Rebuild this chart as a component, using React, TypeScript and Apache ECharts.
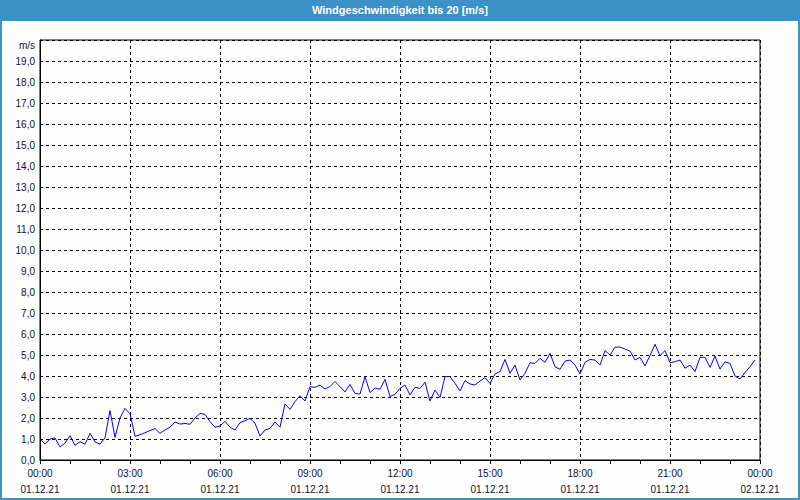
import React, { useEffect, useRef } from "react";
import * as echarts from "echarts";

const titleText = "Windgeschwindigkeit bis 20 [m/s]";
const unitLabel = "m/s";
const timeLabels = ["00:00", "03:00", "06:00", "09:00", "12:00", "15:00", "18:00", "21:00", "00:00"];
const dateLabels = ["01.12.21", "01.12.21", "01.12.21", "01.12.21", "01.12.21", "01.12.21", "01.12.21", "01.12.21", "02.12.21"];

// 10-minute samples from 01.12.21 00:00 (index 0) to 02.12.21 00:00 (index 144)
const windSpeed: (number | null)[] = [
  1.0, 0.76, 1.0, 1.05, 0.62, 0.8, 1.16, 0.7, 0.87, 0.75, 1.27, 0.86,
  0.75, 1.06, 2.35, 1.08, 2.0, 2.46, 2.2, 1.13, 1.2, 1.3, 1.4, 1.5,
  1.27, 1.43, 1.56, 1.81, 1.71, 1.74, 1.7, 2.0, 2.22, 2.17, 1.83, 1.56,
  1.62, 1.84, 1.56, 1.43, 1.78, 1.87, 1.98, 1.75, 1.14, 1.43, 1.51, 1.81,
  1.56, 2.67, 2.41, 2.78, 3.06, 2.81, 3.49, 3.46, 3.57, 3.38, 3.5, 3.74,
  3.49, 3.24, 3.6, 3.17, 3.14, 3.97, 3.21, 3.43, 3.37, 3.84, 3.02, 3.13,
  3.41, 3.57, 3.1, 3.46, 3.41, 3.7, 2.81, 3.33, 2.98, 3.97, 3.97, 3.65,
  3.29, 3.78, 3.62, 3.57, 3.76, 3.92, 3.65, 4.1, 4.21, 4.79, 4.13, 4.52,
  3.81, 4.13, 4.63, 4.6, 4.84, 4.65, 5.08, 4.44, 4.32, 4.71, 4.76, 4.52,
  4.1, 4.65, 4.79, 4.76, 4.52, 5.21, 5.0, 5.37, 5.38, 5.28, 5.19, 4.76,
  4.89, 4.48, 4.97, 5.51, 4.97, 5.21, 4.63, 4.68, 4.76, 4.37, 4.52, 4.21,
  4.89, 4.89, 4.41, 4.95, 4.33, 4.68, 4.6, 4.0, 3.86, 4.16, 4.44, 4.76,
  null,
];

const FONT = "Liberation Sans";

export default function App() {
  const ref = useRef<HTMLDivElement>(null);
  useEffect(() => {
    if (!ref.current) return;
    const chart = echarts.init(ref.current, undefined, { renderer: "svg" });
    const categories = windSpeed.map((_, i) => {
      const m = (i * 10) % 1440;
      const hh = String(Math.floor(m / 60)).padStart(2, "0");
      const mm = String(m % 60).padStart(2, "0");
      return `${i}-${hh}:${mm}`;
    });
    chart.setOption({
      animation: false,
      backgroundColor: "#fdfefd",
      grid: {
        left: 40,
        right: 40,
        top: 40,
        bottom: 40,
        show: true,
        borderColor: "#000",
        borderWidth: 1,
        backgroundColor: "transparent",
      },
      xAxis: {
        type: "category",
        data: categories,
        boundaryGap: false,
        axisLine: { lineStyle: { color: "#000", width: 1 } },
        axisTick: { show: true, interval: 5, length: 4, lineStyle: { color: "#000" } },
        axisLabel: {
          interval: 17,
          margin: 5,
          fontFamily: FONT,
          fontSize: 10,
          lineHeight: 16,
          color: "#111133",
          formatter: (_v: string, idx: number) =>
            idx % 18 === 0 ? `${timeLabels[idx / 18]}\n${dateLabels[idx / 18]}` : "",
        },
        splitLine: {
          show: true,
          interval: 17,
          lineStyle: { color: "#000", type: [3, 3], width: 1 },
        },
      },
      yAxis: {
        type: "value",
        min: 0,
        max: 20,
        interval: 1,
        axisLine: { show: true, lineStyle: { color: "#000", width: 1 } },
        axisTick: { show: false },
        axisLabel: {
          margin: 5,
          fontFamily: FONT,
          fontSize: 10,
          color: "#111133",
          formatter: (v: number) => (v >= 20 ? "" : v.toFixed(1).replace(".", ",")),
        },
        splitLine: { show: true, lineStyle: { color: "#000", type: [3, 3], width: 1 } },
      },
      series: [
        {
          type: "line",
          data: windSpeed,
          connectNulls: true,
          showSymbol: false,
          symbol: "none",
          lineStyle: { color: "#0000ff", width: 1 },
          z: 5,
        },
      ],
      graphic: [
        { type: "rect", shape: { x: 0, y: 0, width: 800, height: 21 }, style: { fill: "#3c91c8" }, z: 100 },
        {
          type: "rect",
          shape: { x: 1, y: 1, width: 798, height: 498 },
          style: { fill: "none", stroke: "#3c91c8", lineWidth: 2 },
          z: 100,
        },
        {
          type: "text",
          x: 400,
          y: 10,
          style: {
            text: titleText,
            fill: "#ffffff",
            font: `bold 11px "${FONT}"`,
            textAlign: "center",
            textVerticalAlign: "middle",
          },
          z: 101,
        },
        {
          type: "text",
          x: 35,
          y: 45,
          style: {
            text: unitLabel,
            fill: "#111133",
            font: `10px "${FONT}"`,
            textAlign: "right",
            textVerticalAlign: "middle",
          },
          z: 101,
        },
      ],
    });
    return () => chart.dispose();
  }, []);
  return <div ref={ref} style={{ position: "fixed", left: 0, top: 0, width: 800, height: 500 }} />;
}
